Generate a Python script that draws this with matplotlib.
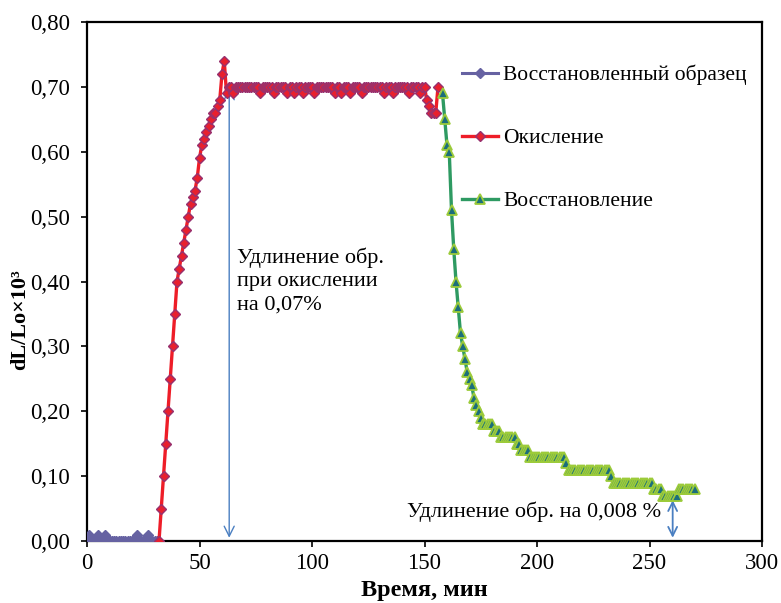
import matplotlib
matplotlib.use("Agg")
import matplotlib.pyplot as plt
from matplotlib.ticker import FuncFormatter, MultipleLocator

plt.rcParams['font.family'] = ['Liberation Serif', 'DejaVu Serif']

# ---- Data ----
# Восстановленный образец (before oxidation), t = 0..31 min
t_restored = list(range(0, 32))
v_restored = [0.00, 0.01, 0.00, 0.00, 0.00, 0.01, 0.00, 0.00, 0.01, 0.00,
              0.00, 0.00, 0.00, 0.00, 0.00, 0.00, 0.00, 0.00, 0.00, 0.00,
              0.00, 0.00, 0.01, 0.00, 0.00, 0.00, 0.00, 0.01, 0.00, 0.00,
              0.00, 0.00]

# Окисление, t = 32..156 min
t_oxid = list(range(32, 157))
v_oxid = [
    # 32..62
    0.00, 0.05, 0.10, 0.15, 0.20, 0.25, 0.30, 0.35, 0.40, 0.42,
    0.44, 0.46, 0.48, 0.50, 0.52, 0.53, 0.54, 0.56, 0.59, 0.61,
    0.62, 0.63, 0.64, 0.65, 0.66, 0.66, 0.67, 0.68, 0.72, 0.74,
    0.69,
    # 63..72
    0.70, 0.70, 0.69, 0.70, 0.70, 0.70, 0.70, 0.70, 0.70, 0.70,
    # 73..82
    0.70, 0.70, 0.70, 0.70, 0.69, 0.70, 0.70, 0.70, 0.70, 0.70,
    # 83..92
    0.69, 0.70, 0.70, 0.70, 0.70, 0.70, 0.69, 0.70, 0.70, 0.69,
    # 93..102
    0.70, 0.70, 0.70, 0.69, 0.70, 0.70, 0.70, 0.70, 0.69, 0.70,
    # 103..112
    0.70, 0.70, 0.70, 0.70, 0.70, 0.70, 0.70, 0.69, 0.70, 0.70,
    # 113..122
    0.69, 0.70, 0.70, 0.70, 0.69, 0.70, 0.70, 0.70, 0.70, 0.69,
    # 123..132
    0.70, 0.70, 0.70, 0.70, 0.70, 0.70, 0.70, 0.70, 0.70, 0.69,
    # 133..142
    0.70, 0.70, 0.70, 0.69, 0.70, 0.70, 0.70, 0.70, 0.70, 0.70,
    # 143..150
    0.69, 0.70, 0.70, 0.70, 0.70, 0.69, 0.70, 0.70,
    # 151..156
    0.68, 0.67, 0.66, 0.66, 0.66, 0.70,
]

# Восстановление, t = 158..270 min
t_reduct = list(range(158, 271))
v_reduct = [
    # 158..175
    0.69, 0.65, 0.61, 0.60, 0.51, 0.45, 0.40, 0.36, 0.32, 0.30,
    0.28, 0.26, 0.25, 0.24, 0.22, 0.21, 0.20, 0.19,
    # 176..180
    0.18, 0.18, 0.18, 0.18, 0.18,
    # 181..183
    0.17, 0.17, 0.17,
    # 184..190
    0.16, 0.16, 0.16, 0.16, 0.16, 0.16, 0.16,
    # 191..192
    0.15, 0.15,
    # 193..196
    0.14, 0.14, 0.14, 0.14,
    # 197..212
    0.13, 0.13, 0.13, 0.13, 0.13, 0.13, 0.13, 0.13,
    0.13, 0.13, 0.13, 0.13, 0.13, 0.13, 0.13, 0.13,
    # 213
    0.12,
    # 214..232
    0.11, 0.11, 0.11, 0.11, 0.11, 0.11, 0.11, 0.11, 0.11, 0.11,
    0.11, 0.11, 0.11, 0.11, 0.11, 0.11, 0.11, 0.11, 0.11,
    # 233
    0.10,
    # 234..251
    0.09, 0.09, 0.09, 0.09, 0.09, 0.09, 0.09, 0.09, 0.09,
    0.09, 0.09, 0.09, 0.09, 0.09, 0.09, 0.09, 0.09, 0.09,
    # 252..255
    0.08, 0.08, 0.08, 0.08,
    # 256..262
    0.07, 0.07, 0.07, 0.07, 0.07, 0.07, 0.07,
    # 263..270
    0.08, 0.08, 0.08, 0.08, 0.08, 0.08, 0.08, 0.08,
]

labels = ['Восстановленный образец', 'Окисление', 'Восстановление']
x_ticks = [0, 50, 100, 150, 200, 250, 300]

# ---- Figure ----
fig = plt.figure(figsize=(7.81, 6.03), dpi=100)
ax = fig.add_axes([87/781, 1-541/603, (762-87)/781, (541-22)/603])

ax.plot(t_restored, v_restored, color='#6662A2', lw=2.2, marker='D', ms=5.0,
        mfc='#6662A2', mec='#6662A2', label=labels[0], zorder=3)
ax.plot(t_oxid, v_oxid, color='#EE1D28', lw=2.4, marker='D', ms=5.0,
        mfc='#E8202E', mec='#97316F', mew=1.0, label=labels[1], zorder=3)
ax.plot(t_reduct, v_reduct, color='#2E9A62', lw=2.4, marker='^', ms=7.5,
        mfc='#1B6E7C', mec='#9CCB3A', mew=1.3, label=labels[2], zorder=4)

arrow_col = '#4A7FC1'
ax.annotate('', xy=(63.2, 0.698), xytext=(63.2, 0.005),
            arrowprops=dict(arrowstyle='<->', color=arrow_col, lw=1.0,
                            mutation_scale=18, shrinkA=0, shrinkB=0), zorder=2)
ax.annotate('', xy=(260.3, 0.063), xytext=(260.3, 0.005),
            arrowprops=dict(arrowstyle='<->', color=arrow_col, lw=1.3,
                            mutation_scale=16, shrinkA=0, shrinkB=0), zorder=2)

ax.text(66.5, 0.452, 'Удлинение обр.\nпри окислении\nна 0,07%', fontsize=16,
        ha='left', va='top', linespacing=1.3)
ax.text(255.0, 0.0447, 'Удлинение обр. на 0,008 %', fontsize=16,
        ha='right', va='center')

ax.set_xlim(0, 300)
ax.set_ylim(0, 0.80)
ax.set_xticks(x_ticks)
ax.yaxis.set_major_locator(MultipleLocator(0.1))
ax.yaxis.set_major_formatter(FuncFormatter(lambda v, p: f'{v:.2f}'.replace('.', ',')))

for s in ax.spines.values():
    s.set_linewidth(1.6)
ax.tick_params(direction='out', length=4.3, width=1.2, labelsize=16.5)
ax.tick_params(axis='y', pad=8)
ax.tick_params(axis='x', pad=4)

ax.set_xlabel('Время, мин', fontsize=17.5, fontweight='bold')
ax.set_ylabel('dL/Lo×10³', fontsize=16, fontweight='bold')
ax.xaxis.set_label_coords(0.5, -0.075)
ax.yaxis.set_label_coords(-0.084, 0.426)

ax.legend(loc='upper left', bbox_to_anchor=(0.556, 0.918), frameon=False,
          fontsize=15.5, labelspacing=2.0, handlelength=1.65, handletextpad=0.25,
          borderpad=0, borderaxespad=0)

fig.savefig('out.png', dpi=100)
